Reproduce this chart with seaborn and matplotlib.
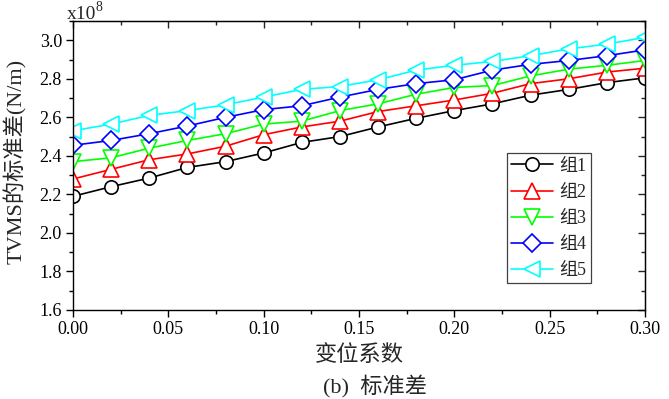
import matplotlib
matplotlib.use("Agg")
import matplotlib.pyplot as plt
from matplotlib.ticker import MultipleLocator
import seaborn as sns
import pandas as pd

# ---- data ----
x_vals = [0.00, 0.02, 0.04, 0.06, 0.08, 0.10, 0.12, 0.14, 0.16, 0.18,
          0.20, 0.22, 0.24, 0.26, 0.28, 0.30]
g1 = [2.19, 2.24, 2.285, 2.34, 2.37, 2.415, 2.47, 2.50, 2.55, 2.595,
      2.635, 2.67, 2.715, 2.745, 2.78, 2.805]
g2 = [2.28, 2.33, 2.38, 2.41, 2.45, 2.51, 2.55, 2.58, 2.63, 2.66,
      2.69, 2.725, 2.775, 2.80, 2.835, 2.855]
g3 = [2.37, 2.39, 2.44, 2.48, 2.515, 2.565, 2.58, 2.635, 2.67, 2.72,
      2.755, 2.765, 2.815, 2.85, 2.87, 2.895]
g4 = [2.455, 2.48, 2.515, 2.555, 2.60, 2.64, 2.66, 2.705, 2.745, 2.775,
      2.795, 2.845, 2.875, 2.895, 2.92, 2.95]
g5 = [2.53, 2.565, 2.61, 2.635, 2.665, 2.705, 2.745, 2.76, 2.795, 2.845,
      2.87, 2.89, 2.92, 2.955, 2.98, 3.015]
series_names = ["组1", "组2", "组3", "组4", "组5"]
series_vals = [g1, g2, g3, g4, g5]
colors = ["#000000", "#ff0000", "#00ff00", "#0000ff", "#00ffff"]
markers = ["o", "^", "v", "D", "<"]
msizes = [9.6, 12, 12, 9.2, 12]

xlabel = "变位系数"
ylabel = "TVMS的标准差(N/m)"
caption = "(b)  标准差"
y_ticks = [1.6, 1.8, 2.0, 2.2, 2.4, 2.6, 2.8, 3.0]
x_ticks = [0.00, 0.05, 0.10, 0.15, 0.20, 0.25, 0.30]

sns.set_style("ticks")
FAM = ["Liberation Serif", "Noto Sans CJK SC"]
plt.rcParams["font.family"] = FAM

fig = plt.figure(figsize=(6.69, 3.99), dpi=100)
ax = fig.add_axes([73 / 669, 89 / 399, 572 / 669, 289 / 399])

for name, vals, c, m, ms in zip(series_names, series_vals, colors, markers, msizes):
    df = pd.DataFrame({"x": x_vals, "y": vals})
    sns.lineplot(data=df, x="x", y="y", ax=ax, color=c, marker=m,
                 markersize=ms, mfc="white", mec=c, mew=1.2, lw=1.2,
                 label=name, errorbar=None)

ax.set_xlim(0.0, 0.30)
ax.set_ylim(1.6, 3.1)
ax.set_xticks(x_ticks)
ax.set_yticks(y_ticks)
ax.set_xticklabels([f"{v:.2f}" for v in x_ticks])
ax.set_yticklabels([f"{v:.1f}" for v in y_ticks])
ax.xaxis.set_minor_locator(MultipleLocator(0.025))
ax.yaxis.set_minor_locator(MultipleLocator(0.1))
ax.tick_params(which="both", direction="out", width=1.0, labelsize=13,
               colors="black", pad=3)
ax.tick_params(which="major", length=5)
ax.tick_params(which="minor", length=3)
for sp in ax.spines.values():
    sp.set_visible(True)
    sp.set_linewidth(1.0)
    sp.set_color("black")

# mirrored inward ticks on top and right
top = ax.secondary_xaxis("top")
top.set_xticks(x_ticks)
top.xaxis.set_minor_locator(MultipleLocator(0.025))
top.tick_params(which="both", direction="in", width=1.0, labeltop=False)
top.tick_params(which="major", length=5)
top.tick_params(which="minor", length=3)
right = ax.secondary_yaxis("right")
right.set_yticks(y_ticks)
right.yaxis.set_minor_locator(MultipleLocator(0.1))
right.tick_params(which="both", direction="in", width=1.0, labelright=False)
right.tick_params(which="major", length=5)
right.tick_params(which="minor", length=3)

ax.set_xlabel(xlabel, fontsize=16, va="center")
ax.xaxis.set_label_coords(0.5, (310 - 356) / 289)
ax.set_ylabel(ylabel, fontsize=16, va="center")
ax.yaxis.set_label_coords((15 - 73) / 572, (310 - 161) / 289)

fig.text(375 / 669, 1 - 387 / 399, caption, ha="center", va="center",
         fontsize=16)
fig.text(67 / 669, 1 - 19 / 399, "x10", ha="left", va="baseline", fontsize=14)
fig.text(96 / 669, 1 - 11 / 399, "8", ha="left", va="baseline", fontsize=10)

leg = ax.legend(loc="upper left", bbox_to_anchor=((506.7 - 73) / 572, (310 - 153.3) / 289),
                borderaxespad=0, fontsize=13, frameon=True, fancybox=False,
                edgecolor="#404040", framealpha=1, handlelength=2.3,
                handletextpad=0.35, labelspacing=0.5, borderpad=0.25)
leg.get_frame().set_linewidth(0.9)

fig.savefig("out.png", dpi=100)
